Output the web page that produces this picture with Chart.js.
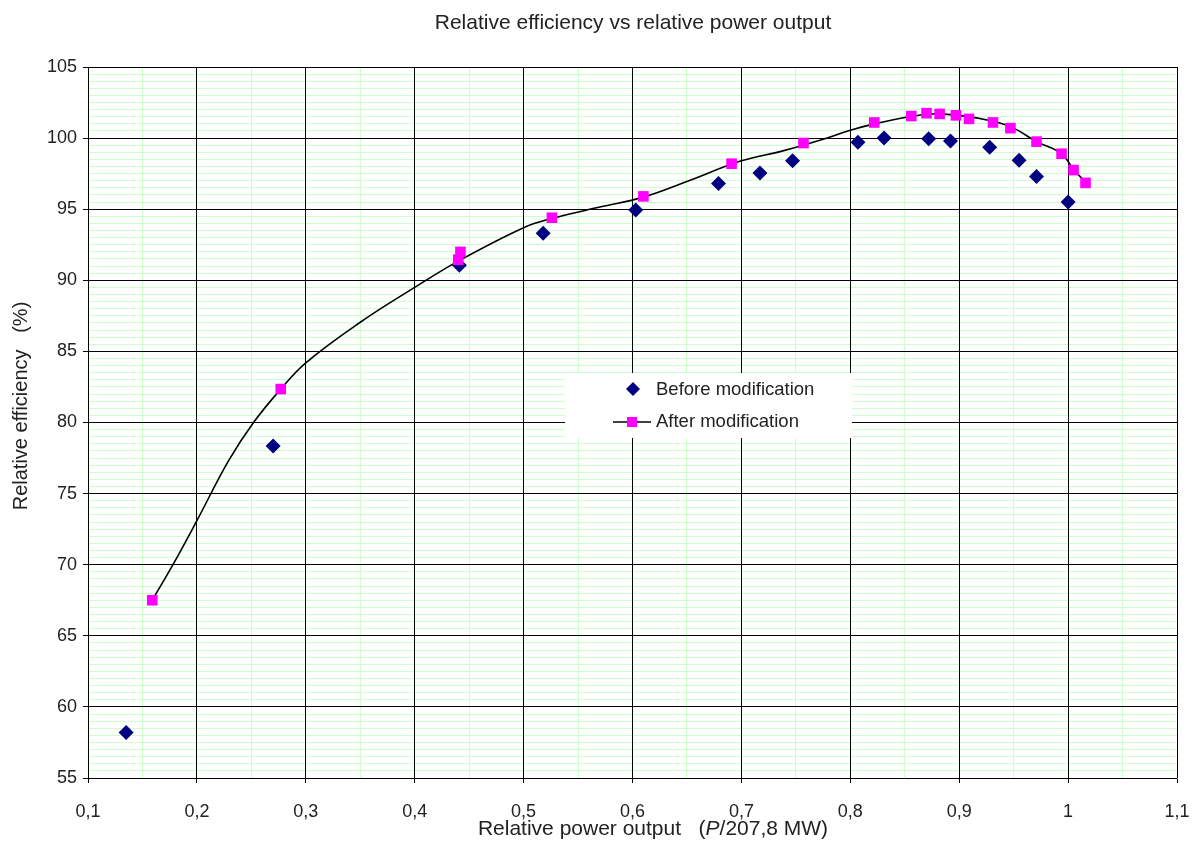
<!DOCTYPE html>
<html>
<head>
<meta charset="utf-8">
<script src="https://cdn.jsdelivr.net/npm/chart.js@4.4.1/dist/chart.umd.min.js"></script>
<style>
html,body{margin:0;padding:0;background:#fff;}
#wrap{width:1198px;height:853px;}
</style>
</head>
<body>
<div id="wrap"><canvas id="c" width="1198" height="853"></canvas></div>
<script>
// ---- data ----
const beforeX = [0.135,0.270,0.441,0.518,0.603,0.679,0.717,0.747,0.807,0.831,0.872,0.892,0.928,0.955,0.971,1.000];
const beforeY = [58.2,78.35,91.05,93.3,94.95,96.8,97.55,98.4,99.7,100.0,99.95,99.8,99.35,98.45,97.3,95.5];

const afterX = [0.159,0.277,0.440,0.442,0.526,0.610,0.691,0.757,0.822,0.856,0.870,0.882,0.897,0.909,0.931,0.947,0.971,0.994,1.005,1.016];
const afterY = [67.5,82.35,91.45,92.0,94.4,95.9,98.2,99.65,101.1,101.55,101.75,101.7,101.6,101.35,101.1,100.7,99.75,98.9,97.75,96.85];

// smoothed line of the "after" series
const curveX = [0.159,0.178,0.200,0.229,0.252,0.277,0.300,0.350,0.400,0.440,0.500,0.526,0.570,0.610,0.650,0.700,0.738,0.772,0.800,0.822,0.850,0.875,0.900,0.930,0.950,0.971,0.994,1.005,1.016];
const curveY = [67.5,70.0,73.1,77.3,80.0,82.35,84.2,87.05,89.5,91.35,93.7,94.35,95.15,95.85,96.95,98.4,99.1,99.85,100.55,101.0,101.45,101.7,101.6,101.2,100.7,99.75,98.9,97.8,96.9];

const xTickValues = [0.1,0.2,0.3,0.4,0.5,0.6,0.7,0.8,0.9,1.0,1.1];
const xTickLabels = ['0,1','0,2','0,3','0,4','0,5','0,6','0,7','0,8','0,9','1','1,1'];
const yTickValues = [55,60,65,70,75,80,85,90,95,100,105];
const yTickLabels = ['55','60','65','70','75','80','85','90','95','100','105'];

const seriesNames = ['Before modification','After modification'];
const chartTitle = 'Relative efficiency vs relative power output';
const xTitleParts = ['Relative power output   (', 'P', '/207,8 MW)'];
const yTitle = 'Relative efficiency   (%)';

// ---- styling ----
const FONT = '"Liberation Sans", Arial, Helvetica, sans-serif';
const TEXT = '#222222';
const NAVY = '#000080';
const MAGENTA = '#ff00ff';
const MINOR = '#ccffcc';

const pts = (xs, ys) => xs.map((x, i) => ({x: x, y: ys[i]}));
const findIdx = (vals, v) => vals.findIndex(t => Math.abs(t - v) < 1e-6);

const majorRedraw = {
  id: 'majorRedraw',
  beforeDatasetsDraw(chart) {
    const {ctx, chartArea: a, scales: {x, y}} = chart;
    const al = p => Math.round(p - 0.5) + 0.5;
    ctx.save();
    ctx.strokeStyle = '#000';
    ctx.lineWidth = 1;
    ctx.beginPath();
    xTickValues.forEach(v => {
      const p = al(x.getPixelForValue(v));
      ctx.moveTo(p, a.top); ctx.lineTo(p, a.bottom);
    });
    yTickValues.forEach(v => {
      const p = al(y.getPixelForValue(v));
      ctx.moveTo(a.left, p); ctx.lineTo(a.right, p);
    });
    ctx.stroke();
    ctx.restore();
  }
};

const legendBox = {
  id: 'legendBox',
  afterDatasetsDraw(chart) {
    const ctx = chart.ctx;
    ctx.save();
    ctx.fillStyle = '#ffffff';
    ctx.fillRect(565, 373, 287, 65);
    // diamond
    ctx.fillStyle = NAVY;
    ctx.beginPath();
    ctx.moveTo(633, 382); ctx.lineTo(640, 389); ctx.lineTo(633, 396); ctx.lineTo(626, 389);
    ctx.closePath(); ctx.fill();
    // line + square
    ctx.strokeStyle = '#000'; ctx.lineWidth = 1.5;
    ctx.beginPath(); ctx.moveTo(613, 422); ctx.lineTo(651, 422); ctx.stroke();
    ctx.fillStyle = MAGENTA;
    ctx.fillRect(627, 417, 10, 10);
    ctx.fillStyle = TEXT;
    ctx.font = '18.5px ' + FONT;
    ctx.textAlign = 'left';
    ctx.textBaseline = 'middle';
    ctx.fillText(seriesNames[0], 656, 390);
    ctx.fillText(seriesNames[1], 656, 422);
    ctx.restore();
  }
};

const textLayer = {
  id: 'textLayer',
  afterDraw(chart) {
    const ctx = chart.ctx;
    ctx.save();
    ctx.fillStyle = TEXT;
    // chart title
    ctx.font = '21px ' + FONT;
    ctx.textAlign = 'center';
    ctx.textBaseline = 'alphabetic';
    ctx.fillText(chartTitle, 633, 29);
    // x title
    ctx.textAlign = 'left';
    const fN = '21px ' + FONT, fI = 'italic 21px ' + FONT;
    const fonts = [fN, fI, fN];
    const widths = xTitleParts.map((t, i) => { ctx.font = fonts[i]; return ctx.measureText(t).width; });
    const total = widths.reduce((a, b) => a + b, 0);
    let x = 653 - total / 2;
    xTitleParts.forEach((t, i) => { ctx.font = fonts[i]; ctx.fillText(t, x, 835); x += widths[i]; });
    // y title
    ctx.translate(27, 406);
    ctx.rotate(-Math.PI / 2);
    ctx.font = '20px ' + FONT;
    ctx.textAlign = 'center';
    ctx.fillText(yTitle, 0, 0);
    ctx.restore();
  }
};

new Chart(document.getElementById('c'), {
  type: 'scatter',
  data: {
    datasets: [
      {
        label: seriesNames[1],
        data: pts(afterX, afterY),
        pointStyle: 'rect',
        pointRadius: 7.5,
        backgroundColor: MAGENTA,
        borderColor: MAGENTA,
        borderWidth: 0,
        showLine: false
      },
      {
        label: 'curve',
        data: pts(curveX, curveY),
        showLine: true,
        borderColor: '#000',
        borderWidth: 1.6,
        pointRadius: 0,
        tension: 0.4,
        fill: false
      },
      {
        label: seriesNames[0],
        data: pts(beforeX, beforeY),
        pointStyle: 'rectRot',
        pointRadius: 7.5,
        backgroundColor: NAVY,
        borderColor: NAVY,
        borderWidth: 0,
        showLine: false
      }
    ]
  },
  options: {
    responsive: false,
    devicePixelRatio: 1,
    animation: false,
    events: [],
    layout: {padding: {left: 0, right: 21, top: 67, bottom: 0}},
    plugins: {
      legend: {display: false},
      tooltip: {enabled: false},
      title: {display: false}
    },
    scales: {
      x: {
        type: 'linear',
        position: 'bottom',
        min: 0.1,
        max: 1.1,
        afterFit(s) { s.height = 75; s.paddingLeft = 0; s.paddingRight = 0; },
        ticks: {
          stepSize: 0.05,
          autoSkip: false,
          maxRotation: 0,
          padding: 18,
          color: TEXT,
          font: {family: FONT, size: 18},
          callback(v) { const i = findIdx(xTickValues, v); return i >= 0 ? xTickLabels[i] : ''; }
        },
        grid: {
          color: c => (c.tick && findIdx(xTickValues, c.tick.value) >= 0) ? '#000' : MINOR,
          tickColor: c => (c.tick && findIdx(xTickValues, c.tick.value) >= 0) ? '#000' : 'rgba(0,0,0,0)',
          tickLength: 5,
          lineWidth: 1
        },
        border: {color: '#808080', width: 1}
      },
      y: {
        type: 'linear',
        position: 'left',
        min: 55,
        max: 105,
        afterFit(s) { s.width = 88; s.paddingTop = 0; s.paddingBottom = 0; },
        ticks: {
          stepSize: 0.5,
          autoSkip: false,
          padding: 6,
          color: TEXT,
          font: {family: FONT, size: 18},
          callback(v) { const i = findIdx(yTickValues, v); return i >= 0 ? yTickLabels[i] : ''; }
        },
        grid: {
          color: c => (c.tick && findIdx(yTickValues, c.tick.value) >= 0) ? '#000' : MINOR,
          tickColor: c => (c.tick && findIdx(yTickValues, c.tick.value) >= 0) ? '#000' : 'rgba(0,0,0,0)',
          tickLength: 5,
          lineWidth: 1
        },
        border: {color: '#808080', width: 1}
      }
    }
  },
  plugins: [majorRedraw, legendBox, textLayer]
});
</script>
</body>
</html>
